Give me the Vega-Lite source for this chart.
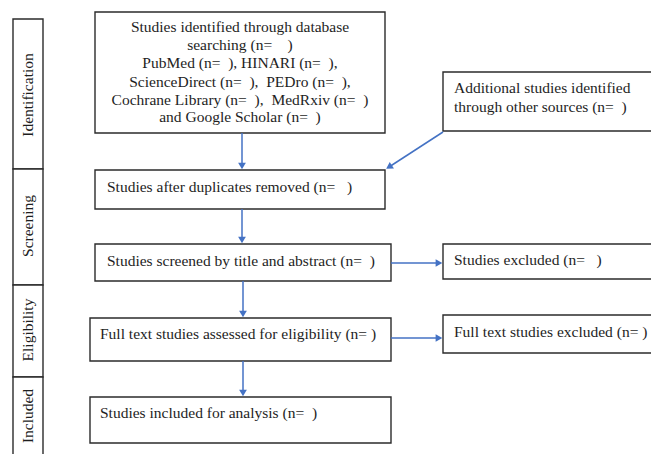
{
  "$schema": "https://vega.github.io/schema/vega-lite/v6.json",
  "width": 651,
  "height": 454,
  "padding": 0,
  "autosize": "none",
  "background": "white",
  "config": {"view": {"stroke": null}},
  "datasets": {
    "boxes": [
      {"id": "Identification", "x": 13, "x2": 43, "y": 19, "y2": 169},
      {"id": "Screening", "x": 13, "x2": 43, "y": 169, "y2": 285},
      {"id": "Eligibility", "x": 13, "x2": 43, "y": 285, "y2": 377},
      {"id": "Included", "x": 13, "x2": 43, "y": 377, "y2": 470},
      {"id": "database", "x": 95, "x2": 385, "y": 12, "y2": 133},
      {"id": "other", "x": 443, "x2": 670, "y": 72, "y2": 131},
      {"id": "duplicates", "x": 95, "x2": 385, "y": 170, "y2": 209},
      {"id": "screened", "x": 95, "x2": 391, "y": 244, "y2": 281},
      {"id": "excluded", "x": 443, "x2": 670, "y": 244, "y2": 279},
      {"id": "fulltext", "x": 90, "x2": 391, "y": 318, "y2": 361},
      {"id": "ftexcluded", "x": 443, "x2": 670, "y": 315, "y2": 353},
      {"id": "included", "x": 90, "x2": 391, "y": 397, "y2": 443}
    ],
    "links": [
      {"from": "database", "x": 242, "y": 133, "x2": 242, "y2": 165},
      {"from": "other", "x": 443, "y": 132, "x2": 389, "y2": 167},
      {"from": "duplicates", "x": 242, "y": 209, "x2": 242, "y2": 239},
      {"from": "screened", "x": 243, "y": 281, "x2": 243, "y2": 313},
      {"from": "fulltext", "x": 243, "y": 361, "x2": 243, "y2": 392},
      {"from": "screened-ex", "x": 391, "y": 263, "x2": 438, "y2": 263},
      {"from": "fulltext-ex", "x": 391, "y": 338, "x2": 438, "y2": 338}
    ],
    "heads": [
      {"to": "duplicates", "x": 242, "y": 166, "shape": "triangle-down", "angle": 0},
      {"to": "duplicates-side", "x": 389, "y": 167, "shape": "triangle-up", "angle": 237},
      {"to": "screened", "x": 242, "y": 240, "shape": "triangle-down", "angle": 0},
      {"to": "fulltext", "x": 243, "y": 314, "shape": "triangle-down", "angle": 0},
      {"to": "included", "x": 243, "y": 393, "shape": "triangle-down", "angle": 0},
      {"to": "excluded", "x": 439, "y": 263, "shape": "triangle-right", "angle": 0},
      {"to": "ftexcluded", "x": 439, "y": 338, "shape": "triangle-right", "angle": 0}
    ],
    "centered": [
      {"x": 240, "y": 27, "text": "Studies identified through database"},
      {"x": 240, "y": 45, "text": "searching (n=\u00a0\u00a0\u00a0\u00a0)"},
      {"x": 240, "y": 63, "text": "PubMed (n=\u00a0\u00a0), HINARI (n=\u00a0\u00a0),"},
      {"x": 240, "y": 82, "text": "ScienceDirect (n=\u00a0\u00a0),\u00a0\u00a0PEDro (n=\u00a0\u00a0),"},
      {"x": 240, "y": 100, "text": "Cochrane Library (n=\u00a0\u00a0),\u00a0\u00a0MedRxiv (n=\u00a0\u00a0)"},
      {"x": 240, "y": 117, "text": "and Google Scholar (n=\u00a0\u00a0)"}
    ],
    "left": [
      {"x": 454, "y": 88, "text": "Additional studies identified"},
      {"x": 454, "y": 107, "text": "through other sources (n=\u00a0\u00a0)"},
      {"x": 107, "y": 187, "text": "Studies after duplicates removed (n=\u00a0\u00a0\u00a0)"},
      {"x": 107, "y": 261, "text": "Studies screened by title and abstract (n=\u00a0\u00a0)"},
      {"x": 454, "y": 260, "text": "Studies excluded (n=\u00a0\u00a0\u00a0)"},
      {"x": 100, "y": 334, "text": "Full text studies assessed for eligibility (n= )"},
      {"x": 454, "y": 332, "text": "Full text studies excluded (n= )"},
      {"x": 100, "y": 413, "text": "Studies included for analysis (n=\u00a0\u00a0)"}
    ],
    "stages": [
      {"x": 28, "y": 95, "text": "Identification"},
      {"x": 28, "y": 226, "text": "Screening"},
      {"x": 28, "y": 330, "text": "Eligibility"},
      {"x": 28, "y": 416, "text": "Included"}
    ]
  },
  "layer": [
    {
      "data": {"name": "boxes"},
      "mark": {"type": "rect", "fill": "white", "stroke": "#2b2b2b", "strokeWidth": 1.4, "clip": true},
      "encoding": {
        "x": {"field": "x", "type": "quantitative", "scale": {"domain": [0, 651], "nice": false, "zero": false}, "axis": null},
        "x2": {"field": "x2"},
        "y": {"field": "y", "type": "quantitative", "scale": {"domain": [0, 454], "nice": false, "zero": false, "reverse": true}, "axis": null},
        "y2": {"field": "y2"}
      }
    },
    {
      "data": {"name": "links"},
      "mark": {"type": "rule", "stroke": "#4472c4", "strokeWidth": 1.5},
      "encoding": {
        "x": {"field": "x", "type": "quantitative"},
        "x2": {"field": "x2"},
        "y": {"field": "y", "type": "quantitative"},
        "y2": {"field": "y2"}
      }
    },
    {
      "data": {"name": "heads"},
      "mark": {"type": "point", "filled": true, "fill": "#4472c4", "stroke": null, "opacity": 1, "size": 60},
      "encoding": {
        "x": {"field": "x", "type": "quantitative"},
        "y": {"field": "y", "type": "quantitative"},
        "shape": {"field": "shape", "type": "nominal", "scale": null},
        "angle": {"field": "angle", "type": "quantitative", "scale": null}
      }
    },
    {
      "data": {"name": "centered"},
      "mark": {"type": "text", "font": "Liberation Serif", "fontSize": 15.5, "align": "center", "baseline": "middle", "fill": "#1e1e1e"},
      "encoding": {
        "x": {"field": "x", "type": "quantitative"},
        "y": {"field": "y", "type": "quantitative"},
        "text": {"field": "text"}
      }
    },
    {
      "data": {"name": "left"},
      "mark": {"type": "text", "font": "Liberation Serif", "fontSize": 15.5, "align": "left", "baseline": "middle", "fill": "#1e1e1e"},
      "encoding": {
        "x": {"field": "x", "type": "quantitative"},
        "y": {"field": "y", "type": "quantitative"},
        "text": {"field": "text"}
      }
    },
    {
      "data": {"name": "stages"},
      "mark": {"type": "text", "font": "Liberation Serif", "fontSize": 15.5, "align": "center", "baseline": "middle", "angle": 270, "fill": "#1e1e1e"},
      "encoding": {
        "x": {"field": "x", "type": "quantitative"},
        "y": {"field": "y", "type": "quantitative"},
        "text": {"field": "text"}
      }
    }
  ]
}
